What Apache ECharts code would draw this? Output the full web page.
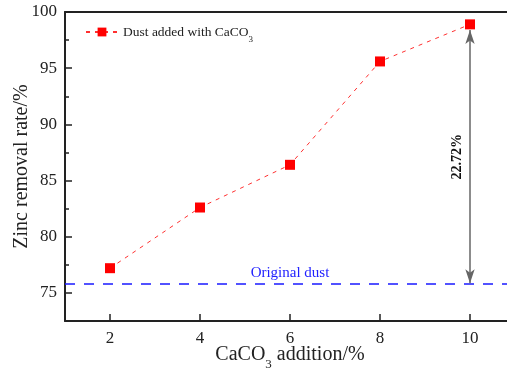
<!DOCTYPE html>
<html><head><meta charset="utf-8">
<script src="https://cdn.jsdelivr.net/npm/echarts@6/dist/echarts.min.js"></script>
<style>html,body{margin:0;padding:0;background:#fff}#c{width:507px;height:368px}</style>
</head><body><div id="c"></div>
<script>
const xValues = [2, 4, 6, 8, 10];
const zincRemoval = [77.2, 82.6, 86.4, 95.6, 98.9];
const originalDust = 75.85;
const arrowSpan = [75.85, 98.4];
const arrowLabel = '22.72%';
const xTicks = [2, 4, 6, 8, 10];
const yTicks = [75, 80, 85, 90, 95, 100];
const yMinorTicks = [77.5, 82.5, 87.5, 92.5, 97.5];

const F = '"Liberation Serif", "Times New Roman", serif';
const chart = echarts.init(document.getElementById('c'));
chart.setOption({
  animation: false,
  grid: { left: 65, top: 12, right: -8, bottom: 47, outerBoundsMode: 'none', containLabel: false },
  legend: {
    left: 80, top: 20, itemWidth: 32, itemHeight: 11, itemGap: 5,
    data: [{ name: 'Dust added with CaCO3' }],
    formatter: () => 'Dust added with CaCO{sub|3}',
    textStyle: { fontFamily: F, fontSize: 13.5, color: '#222', rich: { sub: { fontSize: 9, verticalAlign: 'bottom', padding: [0,0,-5,0], fontFamily: F, color: '#222' } } }
  },
  xAxis: [{
    type: 'value', min: 1, max: 11,
    name: 'CaCO{sub|3} addition/%', nameLocation: 'middle', nameGap: 24, nameMoveOverlap: false,
    nameTextStyle: { fontFamily: F, fontSize: 20, color: '#222', verticalAlign: 'top', rich: { sub: { fontSize: 13, verticalAlign: 'bottom', padding: [0,0,-6,0], fontFamily: F, color: '#222' } } },
    axisLine: { onZero: false, lineStyle: { color: '#222', width: 2 } },
    axisTick: { inside: true, length: 7, customValues: xTicks, lineStyle: { color: '#222', width: 1.5 } },
    axisLabel: { customValues: xTicks, fontFamily: F, fontSize: 17, color: '#222', margin: 9 },
    splitLine: { show: false }
  }, {
    type: 'value', min: 1, max: 11, position: 'top',
    axisLine: { onZero: false, lineStyle: { color: '#222', width: 2 } },
    axisTick: { show: false }, axisLabel: { show: false }, splitLine: { show: false }
  }],
  yAxis: [{
    type: 'value', min: 72.5, max: 100,
    name: 'Zinc removal rate/%', nameLocation: 'middle', nameGap: 33, nameMoveOverlap: false,
    nameTextStyle: { fontFamily: F, fontSize: 20, color: '#222' },
    axisLine: { onZero: false, lineStyle: { color: '#222', width: 2 } },
    axisTick: { inside: true, length: 7, customValues: yTicks, lineStyle: { color: '#222', width: 1.5 } },
    axisLabel: { customValues: yTicks, fontFamily: F, fontSize: 17, color: '#222', margin: 8 },
    splitLine: { show: false }
  }, {
    type: 'value', min: 72.5, max: 100, position: 'left',
    axisLine: { show: false },
    axisTick: { inside: true, length: 4, customValues: yMinorTicks, lineStyle: { color: '#222', width: 1.5 } },
    axisLabel: { show: false }, splitLine: { show: false }
  }],
  series: [{
    name: 'Dust added with CaCO3', type: 'line',
    data: xValues.map((x, i) => [x, zincRemoval[i]]),
    symbol: 'rect', symbolSize: 10,
    itemStyle: { color: '#ff0000' },
    lineStyle: { color: '#ff3030', width: 1, type: [4, 5] },
    z: 5,
    markLine: {
      silent: true, symbol: ['none', 'none'], animation: false,
      data: [
        [{ coord: [1, originalDust] }, { coord: [11, originalDust] }]
      ],
      lineStyle: { color: '#1a1aff', width: 1.5, type: [10, 9] },
      label: { show: true, position: 'middle', formatter: 'Original dust', color: '#2222ff', fontFamily: F, fontSize: 15, distance: 3 }
    }
  }, {
    type: 'line', data: [], xAxisIndex: 0, yAxisIndex: 0,
    markLine: {
      silent: true, animation: false,
      symbol: ['arrow', 'arrow'], symbolSize: [7, 14],
      data: [[{ coord: [10, arrowSpan[0]] }, { coord: [10, arrowSpan[1]] }]],
      lineStyle: { color: '#666', width: 1.5, type: 'solid' },
      itemStyle: { color: '#000' },
      label: { show: true, position: 'middle', formatter: arrowLabel, color: '#111', fontFamily: F, fontSize: 14, fontWeight: 'bold', distance: 6 }
    }
  }]
});
</script></body></html>
